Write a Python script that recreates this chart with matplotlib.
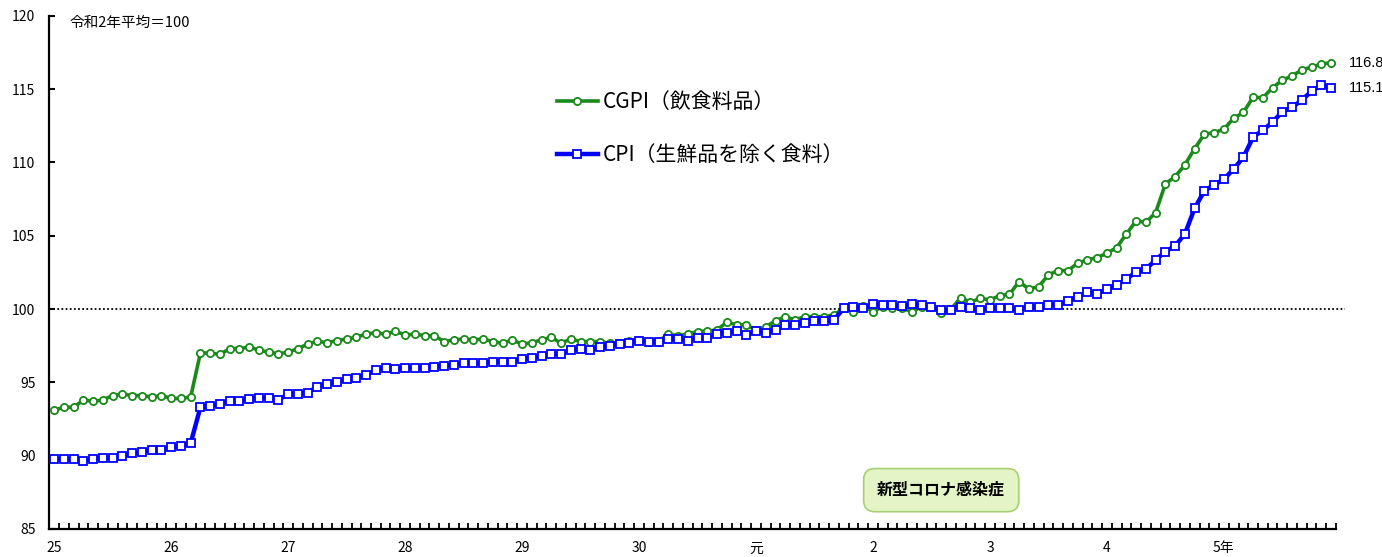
import matplotlib

matplotlib.use("Agg")
import matplotlib.pyplot as plt  # noqa: E402
import numpy as np  # noqa: E402

plt.rcParams["font.family"] = ["Noto Sans CJK JP", "DejaVu Sans"]

# monthly, Jan 2013 (H25) .. Dec 2023 (R5)
cgpi_food = [
    93.1, 93.3, 93.3, 93.8, 93.7, 93.8, 94.1, 94.2, 94.1, 94.1, 94.0, 94.1,
    93.9, 93.9, 94.0, 97.0, 97.0, 96.9, 97.3, 97.3, 97.4, 97.2, 97.05, 96.95,
    97.05, 97.3, 97.6, 97.8, 97.7, 97.85, 97.95, 98.08, 98.28, 98.39, 98.28, 98.48,
    98.23, 98.28, 98.19, 98.19, 97.78, 97.89, 97.96, 97.89, 97.96, 97.78, 97.66, 97.89,
    97.6, 97.71, 97.89, 98.08, 97.66, 97.96, 97.78, 97.78, 97.78, 97.66, 97.71, 97.84,
    97.89, 97.78, 97.78, 98.3, 98.16, 98.3, 98.46, 98.5, 98.57, 99.1, 98.92, 98.92,
    98.57, 98.8, 99.19, 99.48, 99.26, 99.48, 99.48, 99.48, 99.6, 100.05, 99.82, 100.2,
    99.82, 100.16, 100.05, 100.05, 99.82, 100.16, 100.12, 99.75, 99.98, 100.78, 100.46, 100.73,
    100.62, 100.91, 101.01, 101.87, 101.35, 101.53, 102.33, 102.62, 102.62, 103.12, 103.35, 103.51,
    103.8, 104.19, 105.12, 106.01, 105.9, 106.58, 108.53, 109.03, 109.83, 110.94, 111.92, 112.03,
    112.26, 113.01, 113.4, 114.45, 114.4, 115.1, 115.6, 115.9, 116.3, 116.5, 116.7, 116.8,
]

cpi_food = [
    89.75, 89.75, 89.75, 89.66, 89.8, 89.86, 89.86, 89.98, 90.16, 90.27, 90.37, 90.37,
    90.57, 90.66, 90.85, 93.3, 93.39, 93.53, 93.73, 93.73, 93.84, 93.93, 93.93, 93.8,
    94.2, 94.2, 94.3, 94.7, 94.9, 95.02, 95.2, 95.32, 95.5, 95.85, 96.0, 95.89,
    96.0, 96.0, 96.0, 96.07, 96.12, 96.19, 96.3, 96.3, 96.3, 96.41, 96.41, 96.41,
    96.6, 96.69, 96.8, 96.92, 96.92, 97.21, 97.28, 97.21, 97.39, 97.5, 97.6, 97.71,
    97.84, 97.78, 97.78, 97.96, 97.96, 97.85, 98.05, 98.05, 98.28, 98.39, 98.5, 98.23,
    98.5, 98.39, 98.57, 98.92, 98.92, 99.07, 99.19, 99.19, 99.26, 100.05, 100.16, 100.05,
    100.35, 100.28, 100.28, 100.2, 100.35, 100.28, 100.16, 99.94, 99.94, 100.16, 100.05, 99.94,
    100.05, 100.05, 100.05, 99.94, 100.16, 100.16, 100.28, 100.28, 100.55, 100.85, 101.15, 101.03,
    101.35, 101.64, 102.03, 102.55, 102.71, 103.35, 103.92, 104.3, 105.12, 106.87, 108.06, 108.47,
    108.85, 109.54, 110.35, 111.72, 112.2, 112.75, 113.45, 113.75, 114.25, 114.85, 115.25, 115.1,
]

year_labels = ["25", "26", "27", "28", "29", "30", "元", "2", "3", "4", "5年"]
legend_labels = ["CGPI（飲食料品）", "CPI（生鮮品を除く食料）"]
base_note = "令和2年平均＝100"
covid_note = "新型コロナ感染症"

GREEN = "#1a8a1a"
BLUE = "#0000ff"

months = np.arange(len(cgpi_food))

fig = plt.figure(figsize=(13.82, 5.57), dpi=100)
ax = fig.add_axes([0.0357, 0.0503, 0.931, 0.9215])

ax.plot(months, cgpi_food, color=GREEN, lw=2.6, marker="o", ms=5.2,
        mfc="white", mec=GREEN, mew=1.3, label=legend_labels[0], zorder=3)
ax.plot(months, cpi_food, color=BLUE, lw=3.2, marker="s", ms=5.3,
        mfc="white", mec=BLUE, mew=1.3, label=legend_labels[1], zorder=4)

ax.set_xlim(-0.5, len(months) - 0.5)
ax.set_ylim(85, 120)

# 100 reference line, runs a little past the axis end
ax.hlines(100, -0.5, len(months) + 0.4, colors="black", lw=1.3,
          linestyles=(0, (1, 1.3)), clip_on=False, zorder=2)

ax.set_yticks(np.arange(85, 121, 5))
ax.set_xticks(months[::12])
ax.set_xticklabels(year_labels)
ax.set_xticks(np.arange(-0.5, len(months), 1), minor=True)
ax.tick_params(axis="y", direction="in", length=4, width=1.5, pad=10, labelsize=10)
ax.tick_params(axis="x", which="major", length=0, pad=9, labelsize=10)
ax.tick_params(axis="x", which="minor", direction="in", length=4, width=1.3)

for side in ("top", "right"):
    ax.spines[side].set_visible(False)
for side in ("left", "bottom"):
    ax.spines[side].set_linewidth(1.6)

ax.text(0.016, 0.986, base_note, transform=ax.transAxes, fontsize=10.5, va="center")

for series in (cgpi_food, cpi_food):
    ax.annotate(f"{series[-1]:.1f}", xy=(months[-1], series[-1]), xytext=(12.5, 0),
                textcoords="offset points", va="center", fontsize=10.5,
                family=["Liberation Sans"], annotation_clip=False)

ax.text(91, 87.65, covid_note, ha="center", va="center", fontsize=11.5, fontweight="bold",
        bbox=dict(boxstyle="round,pad=0.85,rounding_size=0.7", fc="#e3f4c6", ec="#a8d072", lw=1.2))

ax.legend(loc="upper left", bbox_to_anchor=(557 / 1382, 1 - 91 / 557),
          bbox_transform=fig.transFigure, frameon=False, fontsize=15, numpoints=1,
          handlelength=1.95, handletextpad=0.25, labelspacing=1.5, borderpad=0,
          borderaxespad=0)

fig.savefig("out.png", dpi=100)
